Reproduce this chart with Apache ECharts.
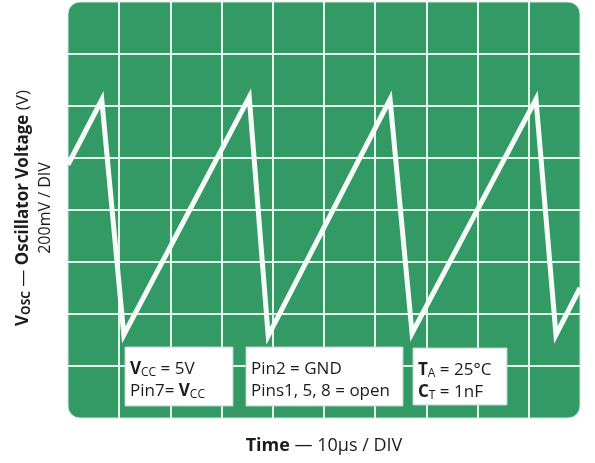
<!DOCTYPE html>
<html><head><meta charset="utf-8">
<script src="https://cdn.jsdelivr.net/npm/echarts@6/dist/echarts.min.js"></script>
<style>html,body{margin:0;padding:0;background:#fff}#c{width:595px;height:463px}</style>
</head><body><div id="c"></div>
<script>
// Waveform (time in µs, voltage in mV; 10 µs/div, 200 mV/div)
const timeUs    = [0,   6.6,  10.9, 35.4, 39.1, 62.9, 67.2, 91.4, 95.3, 100];
const voltageMv = [974, 1224, 320,  1234, 316,  1226, 326,  1226, 320,  500];
// Axis ranges (divisions of the screen)
const xRange = [0, 100, 10];
const yRange = [0, 1600, 200];
// Texts
const yTitle = '{b|V}{bsub|OSC} {d|—} {b|Oscillator Voltage} (V)';
const yScale = '200mV / DIV';
const xTitle = '{bx|Time} {dx|—} 10µs / DIV';
const notes = [
  ['{b|V}{sub|CC} = 5V', 'Pin7= {b|V}{sub|CC}'],
  ['Pin2 = GND', 'Pins1, 5, 8 = open'],
  ['{b|T}{sub|A} = 25°C', '{b|C}{sub|T} = 1nF']
];

const FONT = '"Open Sans", "Noto Sans", sans-serif';
const TXT = '#1c1c1c';
const rich = {
  b: {fontWeight: 'bold', fontSize: 17, fontFamily: FONT, color: TXT, lineHeight: 20},
  bx: {fontWeight: 'bold', fontSize: 18, fontFamily: FONT, color: TXT, lineHeight: 22},
  sub: {fontSize: 12, fontFamily: FONT, color: TXT, lineHeight: 12, padding: [7, 0, 0, 0]},
  bsub: {fontSize: 12, fontWeight: 'bold', fontFamily: FONT, color: TXT, lineHeight: 12, padding: [7, 0, 0, 0]},
  d: {fontSize: 17, fontFamily: FONT, color: '#555', lineHeight: 20},
  dx: {fontSize: 18, fontFamily: FONT, color: '#555', lineHeight: 22}
};
function txt(x, y, text, size, extra) {
  return Object.assign({
    type: 'text', x: x, y: y, z: 20,
    style: {text: text, rich: rich, fontSize: size, fontFamily: FONT, fill: TXT,
            align: 'left', verticalAlign: 'middle'}
  }, extra || {});
}

const G = {left: 68, top: 2, width: 512, height: 416};
const boxes = [
  {x: 125, y: 347, w: 108, h: 59},
  {x: 246, y: 347, w: 157, h: 59},
  {x: 413, y: 348, w: 94, h: 57}
];
const graphics = [
  {type: 'rect', z: -100, shape: {x: G.left, y: G.top, width: G.width, height: G.height, r: 12},
   style: {fill: '#339a66', stroke: '#cfeadc', lineWidth: 1}}
];
boxes.forEach((b, i) => {
  graphics.push({type: 'rect', z: 10, shape: {x: b.x, y: b.y, width: b.w, height: b.h},
                 style: {fill: '#ffffff', stroke: '#b9d2c4', lineWidth: 1}});
  graphics.push(txt(b.x + 5, b.y + 22, notes[i][0], 17));
  graphics.push(txt(b.x + 5, b.y + 44, notes[i][1], 17));
});
graphics.push(txt(23, 208, yTitle, 17, {rotation: Math.PI / 2, style: {text: yTitle, rich: rich, fontSize: 17, fontFamily: FONT, fill: TXT, align: 'center', verticalAlign: 'middle'}}));
graphics.push(txt(45, 208, yScale, 16, {rotation: Math.PI / 2, style: {text: yScale, fontSize: 16, fontFamily: FONT, fill: TXT, align: 'center', verticalAlign: 'middle'}}));
graphics.push(txt(324, 446, xTitle, 18, {style: {text: xTitle, rich: rich, fontSize: 18, fontFamily: FONT, fill: TXT, align: 'center', verticalAlign: 'middle'}}));

const splitStyle = {show: true, showMinLine: false, showMaxLine: false,
                    lineStyle: {color: '#e3f6ec', width: 2}};
const chart = echarts.init(document.getElementById('c'), null, {renderer: 'canvas'});
chart.setOption({
  animation: false,
  backgroundColor: '#ffffff',
  grid: {left: G.left, top: G.top, width: G.width, height: G.height, containLabel: false},
  xAxis: {type: 'value', min: xRange[0], max: xRange[1], interval: xRange[2],
          axisLine: {show: false}, axisTick: {show: false}, axisLabel: {show: false},
          splitLine: splitStyle},
  yAxis: {type: 'value', min: yRange[0], max: yRange[1], interval: yRange[2],
          axisLine: {show: false}, axisTick: {show: false}, axisLabel: {show: false},
          splitLine: splitStyle},
  series: [{
    type: 'line', data: timeUs.map((t, i) => [t, voltageMv[i]]),
    symbol: 'none', clip: true,
    lineStyle: {color: '#f7fcf9', width: 5, join: 'miter', miterLimit: 10}
  }],
  graphic: graphics
});
</script></body></html>
